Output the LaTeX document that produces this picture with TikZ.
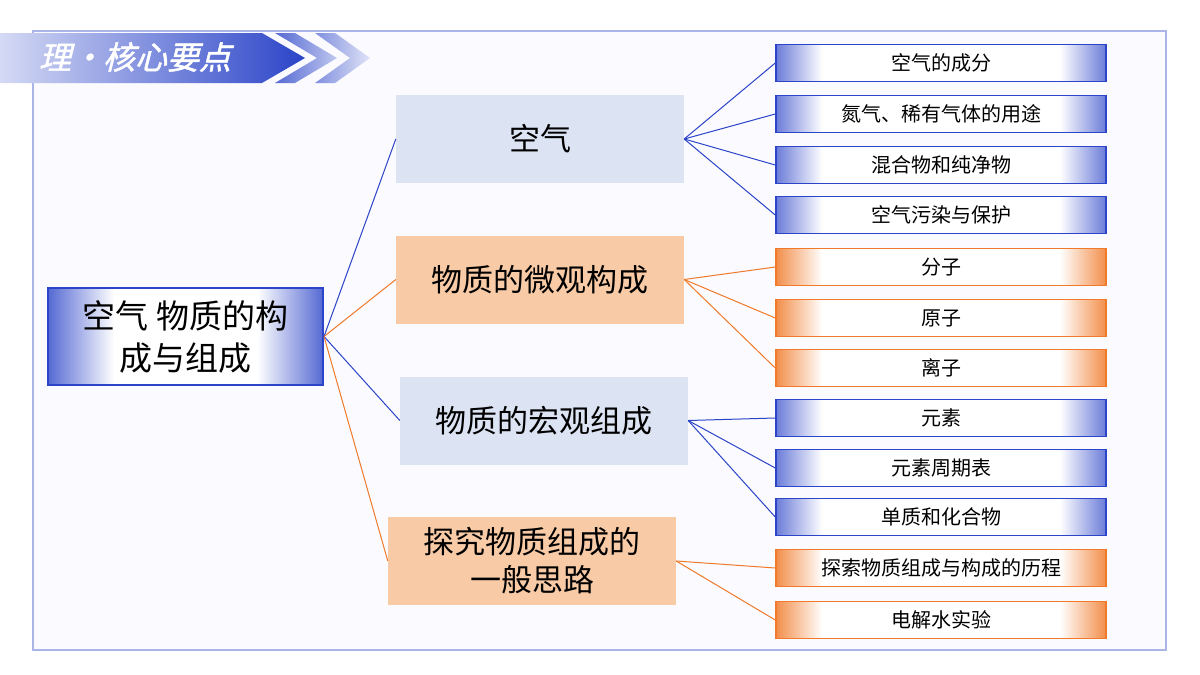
\documentclass[tikz,border=0pt]{standalone}
\usepackage{fontspec}
\setmainfont{Noto Sans CJK SC}
\newfontfamily\cjkhead[FakeSlant=0.25,FakeBold=1.5]{Noto Sans CJK SC}
\usetikzlibrary{positioning}
\definecolor{bblue}{HTML}{2B44C8}
\definecolor{oorange}{HTML}{F07A2A}
\definecolor{midblue}{HTML}{DCE4F4}
\definecolor{midorange}{HTML}{F8CBA6}
\pgfdeclarehorizontalshading{leafB}{100bp}{color(0bp)=(bblue!70); color(25bp)=(bblue!70); color(32bp)=(white); color(68bp)=(white); color(75bp)=(bblue!70); color(100bp)=(bblue!70)}
\pgfdeclarehorizontalshading{leafO}{100bp}{color(0bp)=(oorange!85); color(25bp)=(oorange!85); color(32bp)=(white); color(68bp)=(white); color(75bp)=(oorange!85); color(100bp)=(oorange!85)}
\pgfdeclarehorizontalshading{rootB}{100bp}{color(0bp)=(bblue!80); color(25bp)=(bblue!80); color(37bp)=(white); color(63bp)=(white); color(75bp)=(bblue!80); color(100bp)=(bblue!80)}
\tikzset{
  leafb/.style={rectangle, draw=bblue, line width=1.5pt, minimum width=330pt, minimum height=37pt,
    shading=leafB, font=\fontsize{20}{20}\selectfont},
  leafo/.style={leafb, draw=oorange, shading=leafO},
  midb/.style={rectangle, fill=midblue, minimum width=288pt, minimum height=88pt, align=center,
    font=\fontsize{31}{38}\selectfont},
  mido/.style={midb, fill=midorange},
  linkb/.style={bblue, line width=1pt},
  linko/.style={oorange, line width=1pt}
}
\begin{document}
\begin{tikzpicture}[x=1pt,y=-1pt]
\useasboundingbox (0,0) rectangle (1200,675);
\fill[white] (0,0) rectangle (1200,675);
% frame
\draw[fill=blue!2, draw=bblue!40, line width=2pt] (33,31) rectangle (1166,650);
% header
\shade[left color=bblue!20, right color=bblue] (0,33) -- (262,33) -- (305,58) -- (262,83) -- (0,83) -- cycle;
\shade[left color=bblue!80, right color=bblue!30] (275,33) -- (295,33) -- (337,58) -- (295,83) -- (275,83) -- (317,58) -- cycle;
\shade[left color=bblue!60, right color=bblue!15] (315,33) -- (335,33) -- (370,58) -- (335,83) -- (315,83) -- (350,58) -- cycle;
\node[text=white, font=\cjkhead\fontsize{32}{32}\selectfont] (head) at (135,57) {理·核心要点};
% root
\node[rectangle, draw=bblue, line width=2pt, minimum width=275pt, minimum height=97pt, align=center,
  shading=rootB, font=\fontsize{33}{42}\selectfont]
  (root) at (185.5,336.5) {空气 物质的构\\成与组成};
% middle level
\node[midb] (air) at (540,139) {空气};
\node[mido] (micro) at (540,279.5) {物质的微观构成};
\node[midb] (macro) at (544,420.5) {物质的宏观组成};
\node[mido] (probe) at (532,561) {探究物质组成的\\一般思路};
% leaves
\node[leafb] (l1) at (941,63) {空气的成分};
\node[leafb] (l2) at (941,114) {氮气、稀有气体的用途};
\node[leafb] (l3) at (941,165) {混合物和纯净物};
\node[leafb] (l4) at (941,215) {空气污染与保护};
\node[leafo] (l5) at (941,267) {分子};
\node[leafo] (l6) at (941,318) {原子};
\node[leafo] (l7) at (941,368) {离子};
\node[leafb] (l8) at (941,418) {元素};
\node[leafb] (l9) at (941,468) {元素周期表};
\node[leafb] (l10) at (941,517) {单质和化合物};
\node[leafo] (l11) at (941,568) {探索物质组成与构成的历程};
\node[leafo] (l12) at (941,620) {电解水实验};
% connectors
\draw[linkb] (root.east) -- (air.west);
\draw[linko] (root.east) -- (micro.west);
\draw[linkb] (root.east) -- (macro.west);
\draw[linko] (root.east) -- (probe.west);
\foreach \l in {l1,l2,l3,l4} \draw[linkb] (air.east) -- (\l.west);
\foreach \l in {l5,l6,l7} \draw[linko] (micro.east) -- (\l.west);
\foreach \l in {l8,l9,l10} \draw[linkb] (macro.east) -- (\l.west);
\foreach \l in {l11,l12} \draw[linko] (probe.east) -- (\l.west);
\end{tikzpicture}
\end{document}
